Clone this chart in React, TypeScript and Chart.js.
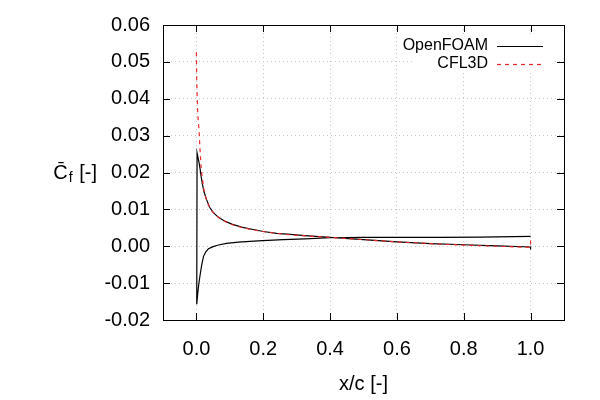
import { useEffect, useRef } from 'react';
import { Chart, registerables } from 'chart.js';
import type { Plugin } from 'chart.js';

Chart.register(...registerables);

const FONT = '"Liberation Sans", Arial, sans-serif';

const xTicks = [0.0, 0.2, 0.4, 0.6, 0.8, 1.0];
const yTicks = [-0.02, -0.01, 0.0, 0.01, 0.02, 0.03, 0.04, 0.05, 0.06];

// OpenFOAM, lower side, leading edge -> trailing edge
const ofLowerX = [0.001, 0.004, 0.007, 0.011, 0.016, 0.021, 0.028, 0.036, 0.05, 0.066, 0.09, 0.126, 0.16, 0.198, 0.26, 0.325, 0.4, 0.5, 0.6, 0.73, 0.85, 0.95, 1.0];
const ofLowerCf = [-0.0157, -0.0128, -0.0103, -0.0078, -0.005, -0.0028, -0.0015, -0.0007, -0.0001, 0.00035, 0.0008, 0.0011, 0.0013, 0.0015, 0.0018, 0.002, 0.0023, 0.0024, 0.0024, 0.0024, 0.0025, 0.0026, 0.0027];

// OpenFOAM, upper side, leading edge -> trailing edge
const ofUpperX = [0.002, 0.005, 0.008, 0.011, 0.014, 0.018, 0.023, 0.03, 0.04, 0.05, 0.065, 0.085, 0.106, 0.135, 0.166, 0.2, 0.24, 0.281, 0.325, 0.4, 0.5, 0.6, 0.7, 0.8, 0.9, 1.0, 1.0];
const ofUpperCf = [0.0253, 0.024, 0.0226, 0.021, 0.019, 0.0168, 0.0147, 0.0127, 0.0105, 0.0092, 0.0079, 0.0068, 0.006, 0.0052, 0.0046, 0.004, 0.0035, 0.0032, 0.0029, 0.0024, 0.0018, 0.0012, 0.0007, 0.0004, 0.0001, -0.0002, -0.0009];

// CFL3D
const cflX = [0.0, 0.001, 0.002, 0.004, 0.006, 0.008, 0.01, 0.012, 0.014, 0.017, 0.022, 0.028, 0.036, 0.046, 0.06, 0.08, 0.106, 0.135, 0.166, 0.2, 0.24, 0.281, 0.325, 0.4, 0.5, 0.6, 0.7, 0.8, 0.9, 1.0, 1.0];
const cflCf = [0.0526, 0.045, 0.041, 0.036, 0.0335, 0.0314, 0.0275, 0.0245, 0.0215, 0.0188, 0.0155, 0.0132, 0.0112, 0.0096, 0.0082, 0.007, 0.0059, 0.0051, 0.0045, 0.004, 0.0035, 0.0031, 0.0028, 0.0024, 0.0018, 0.0012, 0.0007, 0.0003, 0.0, -0.0003, 0.0022];

const RED = 'rgb(232,40,40)';

const openfoamPoints = [
  ...ofLowerX.map((x, i) => ({ x, y: ofLowerCf[i] })).reverse(),
  ...ofUpperX.map((x, i) => ({ x, y: ofUpperCf[i] })),
];
const cflPoints = cflX.map((x, i) => ({ x, y: cflCf[i] }));

// gnuplot look: frame, inward ticks on all sides, key box, axis titles
const gnuplotFrame: Plugin<'line'> = {
  id: 'gnuplotFrame',
  afterDraw(chart) {
    const { ctx, chartArea } = chart;
    const { left, right, top, bottom } = chartArea;
    const xs = chart.scales.x;
    const ys = chart.scales.y;
    ctx.save();

    // key
    ctx.fillStyle = '#fff';
    ctx.fillRect(412, 36, 141, 37);
    ctx.font = `16px ${FONT}`;
    ctx.fillStyle = '#000';
    ctx.textAlign = 'right';
    ctx.textBaseline = 'middle';
    ctx.fillText('OpenFOAM', 488, 46);
    ctx.fillText('CFL3D', 488, 64);
    ctx.lineWidth = 1.2;
    ctx.strokeStyle = '#000';
    ctx.beginPath();
    ctx.moveTo(497, 46.5);
    ctx.lineTo(543, 46.5);
    ctx.stroke();
    ctx.strokeStyle = RED;
    ctx.setLineDash([4, 4]);
    ctx.beginPath();
    ctx.moveTo(497, 64.5);
    ctx.lineTo(543, 64.5);
    ctx.stroke();
    ctx.setLineDash([]);

    // frame and ticks
    ctx.strokeStyle = '#000';
    ctx.lineWidth = 1;
    ctx.strokeRect(Math.round(left) + 0.5, Math.round(top) + 0.5, Math.round(right - left), Math.round(bottom - top));
    const len = 7;
    ctx.beginPath();
    xTicks.forEach(v => {
      const px = Math.round(xs.getPixelForValue(v)) + 0.5;
      ctx.moveTo(px, bottom);
      ctx.lineTo(px, bottom - len);
      ctx.moveTo(px, top);
      ctx.lineTo(px, top + len);
    });
    yTicks.forEach(v => {
      const py = Math.round(ys.getPixelForValue(v)) + 0.5;
      ctx.moveTo(left, py);
      ctx.lineTo(left + len, py);
      ctx.moveTo(right, py);
      ctx.lineTo(right - len, py);
    });
    ctx.stroke();

    // y title, horizontal, next to the 0.02 label
    const yT = ys.getPixelForValue(0.02) + 1;
    ctx.textAlign = 'left';
    ctx.textBaseline = 'middle';
    const main = `20px ${FONT}`;
    const sub = `14px ${FONT}`;
    ctx.font = main;
    const wC = ctx.measureText('C\u0304').width;
    const wB = ctx.measureText(' [-]').width;
    ctx.font = sub;
    const wF = ctx.measureText('f').width + 1;
    let x0 = 96 - (wC + wF + wB);
    ctx.font = main;
    ctx.fillText('C\u0304', x0, yT);
    x0 += wC + 1;
    ctx.font = sub;
    ctx.fillText('f', x0, yT + 5);
    x0 += wF;
    ctx.font = main;
    ctx.fillText(' [-]', x0, yT);

    // x title
    ctx.textAlign = 'center';
    ctx.fillText('x/c [-]', (left + right) / 2, 384);
    ctx.restore();
  },
};

export default function App() {
  const canvasRef = useRef<HTMLCanvasElement>(null);
  const chartRef = useRef<Chart | null>(null);

  useEffect(() => {
    if (!canvasRef.current) return;
    if (chartRef.current) chartRef.current.destroy();

    chartRef.current = new Chart(canvasRef.current, {
      type: 'line',
      data: {
        datasets: [
          {
            label: 'OpenFOAM',
            data: openfoamPoints,
            borderColor: '#000',
            borderWidth: 1.2,
            pointRadius: 0,
            tension: 0,
            order: 1,
          },
          {
            label: 'CFL3D',
            data: cflPoints,
            borderColor: RED,
            borderWidth: 1.2,
            borderDash: [4, 4],
            pointRadius: 0,
            tension: 0,
            order: 0,
          },
        ],
      },
      options: {
        animation: false,
        responsive: true,
        maintainAspectRatio: false,
        parsing: false,
        layout: { padding: { top: 25, right: 36, left: 0, bottom: 0 } },
        plugins: {
          legend: { display: false },
          tooltip: { enabled: false },
        },
        scales: {
          x: {
            type: 'linear',
            min: -0.1,
            max: 1.1,
            afterBuildTicks: s => {
              s.ticks = xTicks.map(value => ({ value }));
            },
            afterFit: s => {
              s.height = 80;
            },
            ticks: {
              callback: v => Number(v).toFixed(1),
              font: { family: FONT, size: 20 },
              color: '#000',
              padding: 17,
              maxRotation: 0,
              autoSkip: false,
            },
            grid: { color: '#c8c8c8', drawTicks: false, lineWidth: 1 },
            border: { display: false, dash: [1, 3] },
          },
          y: {
            type: 'linear',
            min: -0.02,
            max: 0.06,
            afterBuildTicks: s => {
              s.ticks = yTicks.map(value => ({ value }));
            },
            afterFit: s => {
              s.width = 163;
            },
            ticks: {
              callback: v => Number(v).toFixed(2),
              font: { family: FONT, size: 20 },
              color: '#000',
              padding: 13,
              autoSkip: false,
            },
            grid: { color: '#c8c8c8', drawTicks: false, lineWidth: 1 },
            border: { display: false, dash: [1, 3] },
          },
        },
      },
      plugins: [gnuplotFrame],
    });

    return () => {
      if (chartRef.current) {
        chartRef.current.destroy();
        chartRef.current = null;
      }
    };
  }, []);

  return (
    <div style={{ position: 'absolute', left: 0, top: 0, width: '600px', height: '400px', background: '#fff' }}>
      <canvas ref={canvasRef}></canvas>
    </div>
  );
}
